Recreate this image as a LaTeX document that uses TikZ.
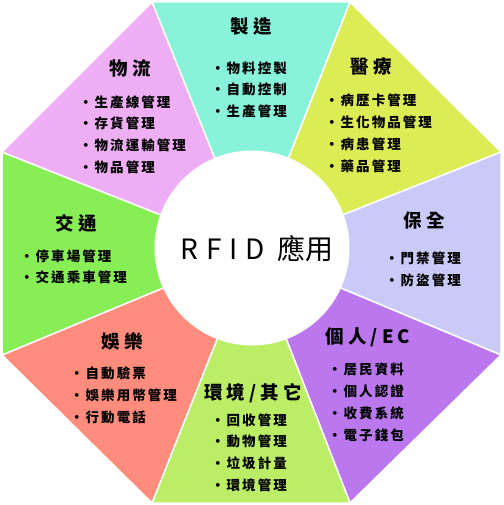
\documentclass[tikz,border=0pt]{standalone}
\usepackage{fontspec}
\newfontfamily\cjk{Noto Sans CJK TC}
\newfontfamily\cjkitem[LetterSpace=15]{Noto Sans CJK TC}
\newfontfamily\cjktitle[LetterSpace=22]{Noto Sans CJK TC}

\definecolor{mfgcol}{HTML}{88F2DA}
\definecolor{medcol}{HTML}{DCEC55}
\definecolor{seccol}{HTML}{CACAF8}
\definecolor{eccol}{HTML}{BB77EE}
\definecolor{envcol}{HTML}{BBEE66}
\definecolor{funcol}{HTML}{FF8C7C}
\definecolor{trafcol}{HTML}{88EE55}
\definecolor{logcol}{HTML}{EEAEF4}

\begin{document}
\begin{tikzpicture}[x=1pt,y=-1pt,
  wedge/.style={draw=white, line width=1.5pt, line join=round},
  title/.style={font=\cjktitle\bfseries\fontsize{18.5}{18.5}\selectfont, inner sep=0pt},
  entry/.style={font=\cjkitem\bfseries\fontsize{13.5}{13.5}\selectfont, anchor=west, inner sep=0pt}]
\useasboundingbox (0,0) rectangle (503,505);
% octagon corners, clockwise from the top left
\coordinate (o) at (252,251);
\coordinate (p1) at (152,2);
\coordinate (p2) at (350,2);
\coordinate (p3) at (501,152);
\coordinate (p4) at (501,355);
\coordinate (p5) at (350,503);
\coordinate (p6) at (152,503);
\coordinate (p7) at (2,355);
\coordinate (p8) at (2,152);
% the eight wedges
\foreach \a/\b/\col in {p1/p2/mfgcol, p2/p3/medcol, p3/p4/seccol, p4/p5/eccol,
                        p5/p6/envcol, p6/p7/funcol, p7/p8/trafcol, p8/p1/logcol}
  \draw[wedge, fill=\col] (o) -- (\a) -- (\b) -- cycle;
% hub
\node[circle, fill=white, minimum size=195pt, inner sep=0pt] (hub) at (252,248) {};
\node[font=\cjk\fontsize{28}{28}\selectfont, inner sep=0pt] (hubtext) at (257,249)
  {{\addfontfeatures{LetterSpace=28}RFID}\hspace{12pt}應用};

% manufacturing (top)
\node[title] (mfg) at (251,27) {製造};
\foreach \t [count=\i from 0] in {物料控製,自動控制,生產管理}
  \node[entry] (mfg\i) at (211,68+21.8*\i) {・\t};
% medical (top right)
\node[title] (med) at (371,66) {醫療};
\foreach \t [count=\i from 0] in {病歷卡管理,生化物品管理,病患管理,藥品管理}
  \node[entry] (med\i) at (325,100+22.2*\i) {・\t};
% security (right)
\node[title] (sec) at (424,220) {保全};
\foreach \t [count=\i from 0] in {門禁管理,防盜管理}
  \node[entry] (sec\i) at (385,258+22*\i) {・\t};
% personal / EC (bottom right)
\node[title] (ec) at (368,337) {個人/EC};
\foreach \t [count=\i from 0] in {居民資料,個人認證,收費系統,電子錢包}
  \node[entry] (ec\i) at (328,369+22.2*\i) {・\t};
% environment (bottom)
\node[title] (env) at (253,393) {環境/其它};
\foreach \t [count=\i from 0] in {回收管理,動物管理,垃圾計量,環境管理}
  \node[entry] (env\i) at (211,420+21.8*\i) {・\t};
% entertainment (bottom left)
\node[title] (fun) at (122,341) {娛樂};
\foreach \t [count=\i from 0] in {自動驗票,娛樂用幣管理,行動電話}
  \node[entry] (fun\i) at (70,373+22*\i) {・\t};
% traffic (left)
\node[title] (traf) at (76,223) {交通};
\foreach \t [count=\i from 0] in {停車場管理,交通乘車管理}
  \node[entry] (traf\i) at (20,256+21.5*\i) {・\t};
% logistics (top left)
\node[title] (log) at (130,68) {物流};
\foreach \t [count=\i from 0] in {生產線管理,存貨管理,物流運輸管理,物品管理}
  \node[entry] (log\i) at (79,102+21.8*\i) {・\t};
\end{tikzpicture}
\end{document}
